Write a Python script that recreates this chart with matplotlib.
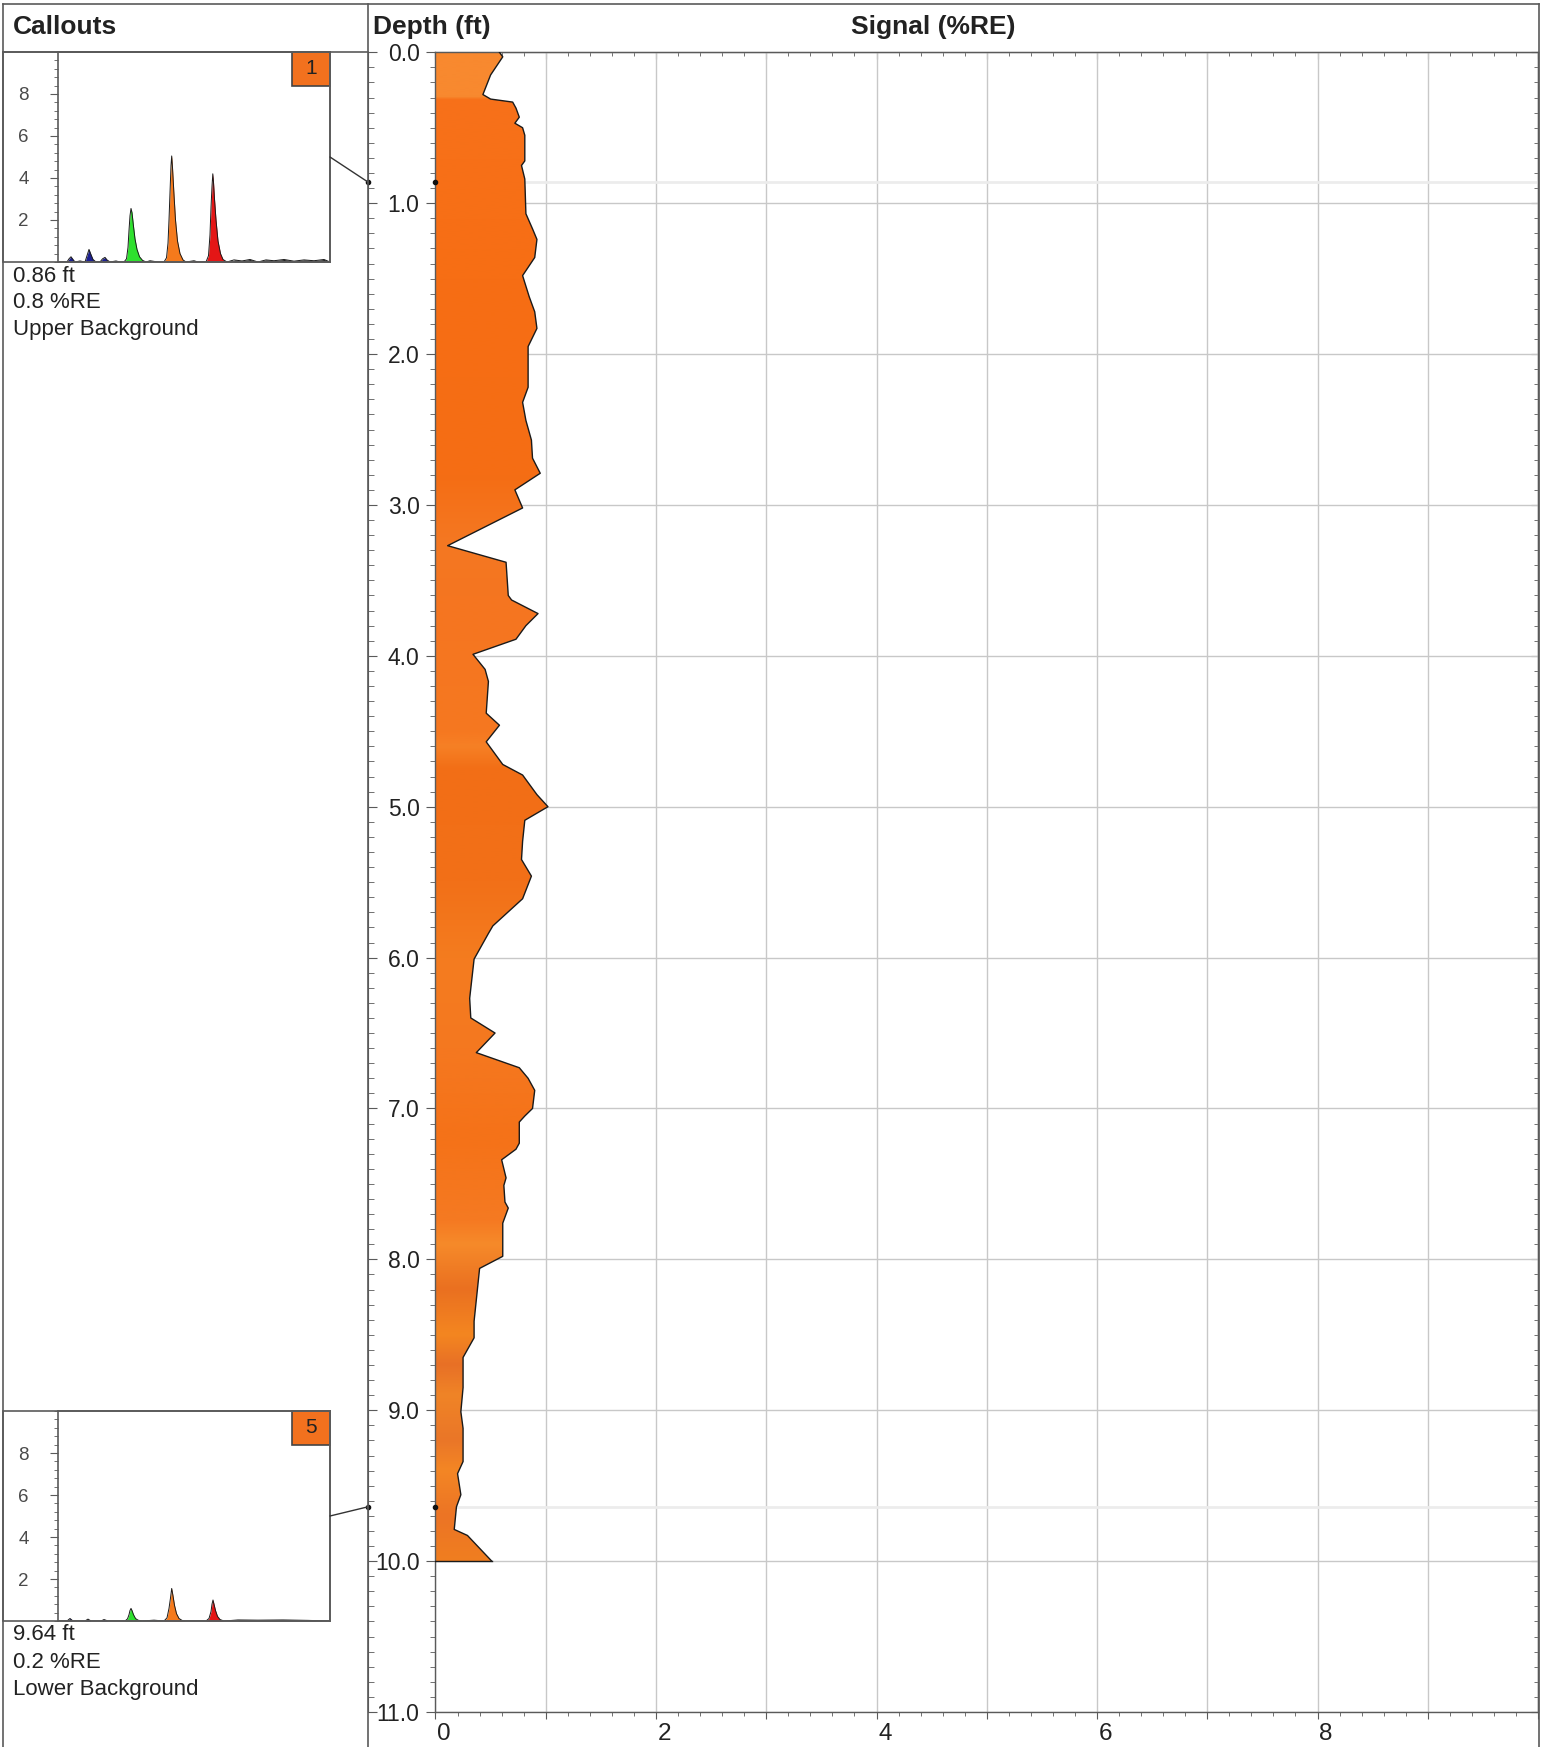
import numpy as np
import matplotlib.pyplot as plt
from matplotlib.patches import Polygon, Rectangle, ConnectionPatch
from matplotlib.lines import Line2D
from matplotlib.ticker import MultipleLocator, FuncFormatter, FixedLocator
import matplotlib.transforms as mtransforms

plt.rcParams['font.family'] = ['Liberation Sans', 'DejaVu Sans']

W, H = 1546, 1747

# depth profile (ft) and signal (%RE), read top to bottom
DEPTH = [0.00, 0.03, 0.15, 0.28, 0.31, 0.33, 0.37, 0.43, 0.47, 0.50, 0.55, 0.72, 0.75, 0.84,
         1.07, 1.17, 1.24, 1.36, 1.48, 1.62, 1.72, 1.83, 1.95, 2.22, 2.32, 2.44, 2.57, 2.69,
         2.79, 2.90, 3.02, 3.27, 3.38, 3.60, 3.63, 3.72, 3.80, 3.89, 3.99, 4.09, 4.17, 4.38,
         4.46, 4.57, 4.72, 4.79, 4.88, 4.92, 5.00, 5.09, 5.23, 5.35, 5.46, 5.61, 5.79, 5.84,
         6.01, 6.27, 6.40, 6.50, 6.63, 6.73, 6.80, 6.88, 7.00, 7.05, 7.09, 7.23, 7.27, 7.34,
         7.46, 7.51, 7.62, 7.66, 7.76, 7.98, 8.06, 8.20, 8.41, 8.52, 8.65, 8.85, 9.01, 9.12,
         9.34, 9.42, 9.56, 9.64, 9.79, 9.83, 10.00]
SIGNAL = [0.58, 0.61, 0.50, 0.43, 0.50, 0.70, 0.73, 0.76, 0.72, 0.79, 0.81, 0.81, 0.78, 0.81,
          0.82, 0.88, 0.92, 0.90, 0.79, 0.85, 0.90, 0.92, 0.84, 0.84, 0.79, 0.82, 0.87, 0.88,
          0.95, 0.72, 0.79, 0.11, 0.64, 0.66, 0.69, 0.93, 0.82, 0.73, 0.34, 0.45, 0.48, 0.46,
          0.58, 0.46, 0.61, 0.79, 0.88, 0.92, 1.02, 0.81, 0.79, 0.78, 0.87, 0.79, 0.52, 0.48,
          0.35, 0.31, 0.32, 0.54, 0.37, 0.76, 0.84, 0.90, 0.88, 0.81, 0.76, 0.76, 0.73, 0.60,
          0.64, 0.62, 0.63, 0.66, 0.61, 0.61, 0.40, 0.38, 0.35, 0.35, 0.25, 0.25, 0.23, 0.25,
          0.25, 0.20, 0.23, 0.19, 0.17, 0.29, 0.51]

CALLOUT_IDS = [1, 5]
CALLOUT_DEPTHS = [0.86, 9.64]
CALLOUT_SIGNALS = [0.8, 0.2]
CALLOUT_NAMES = ['Upper Background', 'Lower Background']

# callout waveforms
WAVE_X_UPPER = [0, 9, 11, 13, 15, 17, 22, 27, 29, 31, 33, 35, 38, 42, 44.5, 47, 49, 52, 58, 62,
                66, 68.5, 70, 71, 72, 73, 74, 75.5, 77, 79, 81.5, 84.5, 88, 92, 100,
                106, 108.5, 110, 111, 112, 113, 113.7, 114.5, 116, 117.5, 119.5, 122, 125, 128, 136, 140,
                148, 150.5, 152, 153, 154, 154.8, 155.5, 156.5, 158, 160, 162.5, 165, 169,
                176, 184, 192, 200, 208, 216, 226, 236, 246, 256, 266, 272]
WAVE_Y_UPPER = [0, 0, 0.15, 0.25, 0.12, 0, 0.05, 0, 0.3, 0.6, 0.35, 0.12, 0, 0, 0.15, 0.22, 0.1, 0, 0.05, 0,
                0, 0.15, 0.7, 1.5, 2.2, 2.55, 2.35, 1.7, 1.1, 0.6, 0.25, 0.08, 0, 0.06, 0,
                0, 0.2, 0.9, 2.0, 3.3, 4.6, 5.05, 4.5, 3.2, 2.0, 1.0, 0.4, 0.1, 0, 0.06, 0,
                0, 0.3, 1.3, 2.6, 3.6, 4.2, 3.8, 3.0, 2.0, 1.0, 0.4, 0.12, 0,
                0.1, 0.05, 0.12, 0, 0.1, 0.06, 0.12, 0.04, 0.1, 0.06, 0.12, 0]
WAVE_X_LOWER = [0, 9, 12, 15, 22, 27, 30, 33, 38, 43, 46, 50, 60,
                67, 69.5, 71, 72, 73, 74, 75.5, 77.5, 80, 84, 96,
                106, 109, 111, 112.5, 113.7, 115, 116.5, 118.5, 121, 124, 127, 140,
                148, 151, 153, 154, 155, 156, 157.5, 159.5, 162, 166,
                180, 200, 225, 250, 272]
WAVE_Y_LOWER = [0, 0, 0.12, 0, 0, 0, 0.09, 0, 0, 0, 0.07, 0, 0,
                0, 0.1, 0.3, 0.5, 0.6, 0.5, 0.3, 0.12, 0.04, 0, 0.04,
                0, 0.15, 0.6, 1.1, 1.55, 1.2, 0.75, 0.35, 0.12, 0.03, 0, 0,
                0, 0.12, 0.45, 0.8, 1.0, 0.8, 0.5, 0.22, 0.07, 0,
                0.05, 0.04, 0.05, 0.03, 0]
CHANNEL_EDGES = [0, 20, 40, 60, 95, 135, 172, 272]
CHANNEL_COLORS = ['#1c1f8f', '#1c1f8f', '#1c1f8f', '#2ee02e', '#f57a1c', '#e41616', '#222222']

# shading bands of the fill
BAND_DEPTHS = [0.0, 0.29, 0.31, 1.5, 2.8, 3.25, 3.6, 4.5, 4.6, 4.75, 5.5, 6.0, 6.6, 7.2,
               7.75, 7.9, 8.2, 8.5, 8.7, 8.9, 9.2, 9.4, 9.7, 10.0]
BAND_COLORS = ['#f8892f', '#f8892f', '#f7711a', '#f76e14', '#f56d14', '#f47822', '#f57520',
               '#f67820', '#f68025', '#f26e16', '#f27018', '#f47c1f', '#f57820', '#f57218',
               '#f57a22', '#f68a2a', '#ea7020', '#f48620', '#e87026', '#f08426', '#ea7628',
               '#f48624', '#ec7425', '#f07e20']

LINE = '#5a5a5a'
TXT = '#222222'


def fx(px):
    return px / W


def fy(py):
    return 1 - py / H


fig = plt.figure(figsize=(W / 100, H / 100), dpi=100)

# ---- main depth log ----
ax_l, ax_r, ax_t, ax_b = 435.5, 1538, 52.3, 1712
ax = fig.add_axes([fx(ax_l), fy(ax_b), (ax_r - ax_l) / W, (ax_b - ax_t) / H])

rows = np.linspace(0, 11, 1100)
rgb = np.array([[int(c[i:i + 2], 16) / 255 for i in (1, 3, 5)] for c in BAND_COLORS])
img = np.stack([np.interp(rows, BAND_DEPTHS, rgb[:, k]) for k in range(3)], axis=-1)[:, None, :]
im = ax.imshow(img, extent=(0, 10, 11, 0), aspect='auto', interpolation='bilinear', zorder=2)

verts = [(0, DEPTH[0])] + list(zip(SIGNAL, DEPTH)) + [(0, DEPTH[-1])]
clip = Polygon(verts, closed=True, facecolor='none', edgecolor='none', transform=ax.transData)
ax.add_patch(clip)
im.set_clip_path(clip)

ax.plot(SIGNAL, DEPTH, color='#1a1a1a', lw=1.0, zorder=3)
ax.plot([0, SIGNAL[-1]], [DEPTH[-1], DEPTH[-1]], color='#1a1a1a', lw=1.0, zorder=3)

for d in CALLOUT_DEPTHS:
    ax.axhline(d, color='#ececec', lw=2, zorder=1)

ax.set_xlim(0, 10)
ax.set_ylim(11, 0)

ax.xaxis.set_major_locator(MultipleLocator(1))
ax.xaxis.set_minor_locator(MultipleLocator(0.2))
ax.xaxis.set_major_formatter(FuncFormatter(lambda v, _: f'{v:.0f}' if round(v) % 2 == 0 and v < 9.5 else ''))
ax.yaxis.set_major_locator(MultipleLocator(1))
ax.yaxis.set_minor_locator(MultipleLocator(0.1))
ax.yaxis.set_major_formatter(FuncFormatter(lambda v, _: f'{v:.1f}'))

ax.tick_params(axis='both', which='both', direction='out', colors=LINE, labelcolor=TXT,
               labelsize=16.5, top=False, right=False)
ax.tick_params(axis='x', which='major', length=5, pad=3, labelsize=17.5)
ax.tick_params(axis='x', which='minor', length=3)
ax.tick_params(axis='y', which='major', length=6.5, pad=5)
ax.tick_params(axis='y', which='minor', length=3.5)
for lab in ax.get_xticklabels():
    lab.set_transform(lab.get_transform() + mtransforms.ScaledTranslation(6 / 72, 0, fig.dpi_scale_trans))

ax.grid(which='major', color='#c8c8c8', lw=1)
ax.set_axisbelow(True)
for s in ax.spines.values():
    s.set_color(LINE)
    s.set_linewidth(1)

# inward ticks on top, right, and on the panel divider
top = ax.secondary_xaxis('top')
top.xaxis.set_major_locator(MultipleLocator(1))
top.xaxis.set_minor_locator(MultipleLocator(0.2))
top.tick_params(which='both', direction='in', labeltop=False, colors=LINE)
top.tick_params(which='major', length=5)
top.tick_params(which='minor', length=3)
top.spines['top'].set_color(LINE)

right = ax.secondary_yaxis('right')
right.yaxis.set_major_locator(MultipleLocator(1))
right.yaxis.set_minor_locator(MultipleLocator(0.1))
right.tick_params(which='both', direction='in', labelright=False, colors=LINE)
right.tick_params(which='major', length=5)
right.tick_params(which='minor', length=3)
right.spines['right'].set_color(LINE)

div_x = 368
div_loc = (div_x - ax_l) / (ax_r - ax_l)
dep = ax.secondary_yaxis(div_loc)
dep.yaxis.set_major_locator(MultipleLocator(1))
dep.yaxis.set_minor_locator(MultipleLocator(0.1))
dep.tick_params(which='both', direction='in', labelleft=False, colors=LINE)
dep.tick_params(which='major', length=6.5)
dep.tick_params(which='minor', length=4)
dep.spines['left'].set_color(LINE)

blend = mtransforms.blended_transform_factory(ax.transAxes, ax.transData)
for d in CALLOUT_DEPTHS:
    ax.plot([0], [d], 'o', ms=3, color='#111111', zorder=5, clip_on=False)
    ax.plot([div_loc], [d], 'o', ms=3, color='#111111', zorder=5, clip_on=False, transform=blend)

# ---- frame and headers ----
frame = [((3, 4), (1538.5, 4)), ((3, 4), (3, 1747)), ((1538.5, 4), (1538.5, 1747)),
         ((div_x, 4), (div_x, 1747)), ((3, 52), (div_x, 52))]
for (x0, y0), (x1, y1) in frame:
    fig.add_artist(Line2D([fx(x0), fx(x1)], [fy(y0), fy(y1)], color=LINE, lw=1.2))

fig.text(fx(13), fy(27), 'Callouts', weight='bold', size=19, va='center', color=TXT)
fig.text(fx(373), fy(27), 'Depth (ft)', weight='bold', size=19, va='center', color=TXT)
fig.text(fx(933), fy(27), 'Signal (%RE)', weight='bold', size=19, va='center', ha='center', color=TXT)

# ---- callouts ----
box_tops = [52, 1411]
box_h = 210
waves = [(WAVE_X_UPPER, WAVE_Y_UPPER), (WAVE_X_LOWER, WAVE_Y_LOWER)]
for i, cid in enumerate(CALLOUT_IDS):
    t = box_tops[i]
    b = t + box_h
    fig.add_artist(Rectangle((fx(3), fy(b)), (330 - 3) / W, box_h / H, transform=fig.transFigure,
                             facecolor='none', edgecolor=LINE, lw=1.2))
    m = fig.add_axes([fx(58), fy(b), (330 - 58) / W, box_h / H])
    wx = np.array(waves[i][0])
    wy = np.array(waves[i][1])
    for lo, hi, c in zip(CHANNEL_EDGES[:-1], CHANNEL_EDGES[1:], CHANNEL_COLORS):
        m.fill_between(wx, 0, wy, where=(wx >= lo) & (wx <= hi), color=c, lw=0)
    m.plot(wx, wy, color='#1a1a1a', lw=0.7)
    m.set_xlim(0, 272)
    m.set_ylim(0, 10)
    m.set_xticks([])
    m.yaxis.set_major_locator(FixedLocator([2, 4, 6, 8]))
    m.yaxis.set_minor_locator(MultipleLocator(0.4))
    m.tick_params(axis='y', which='both', direction='out', colors=LINE, labelcolor='#4a4a4a',
                  labelsize=13.5)
    m.tick_params(axis='y', which='major', length=6, pad=15)
    m.tick_params(axis='y', which='minor', length=3)
    for s in m.spines.values():
        s.set_color(LINE)
        s.set_linewidth(1.2)

    m.add_patch(Rectangle((0.86, 0.84), 0.14, 0.16, transform=m.transAxes,
                          facecolor='#f2711e', edgecolor='#444444', lw=1.2, clip_on=False))
    m.text(0.93, 0.92, str(cid), transform=m.transAxes, ha='center', va='center',
           size=15, color=TXT)

    con = ConnectionPatch(xyA=(1, 0.5), coordsA=m.transAxes,
                          xyB=(div_loc, CALLOUT_DEPTHS[i]), coordsB=blend,
                          color='#333333', lw=1)
    fig.add_artist(con)

    lines = [f'{CALLOUT_DEPTHS[i]:.2f} ft', f'{CALLOUT_SIGNALS[i]:.1f} %RE', CALLOUT_NAMES[i]]
    for k, s in enumerate(lines):
        fig.text(fx(13), fy(b + 14 + 27 * k), s, size=16, va='center', color=TXT)

fig.savefig('out.png', dpi=100)
